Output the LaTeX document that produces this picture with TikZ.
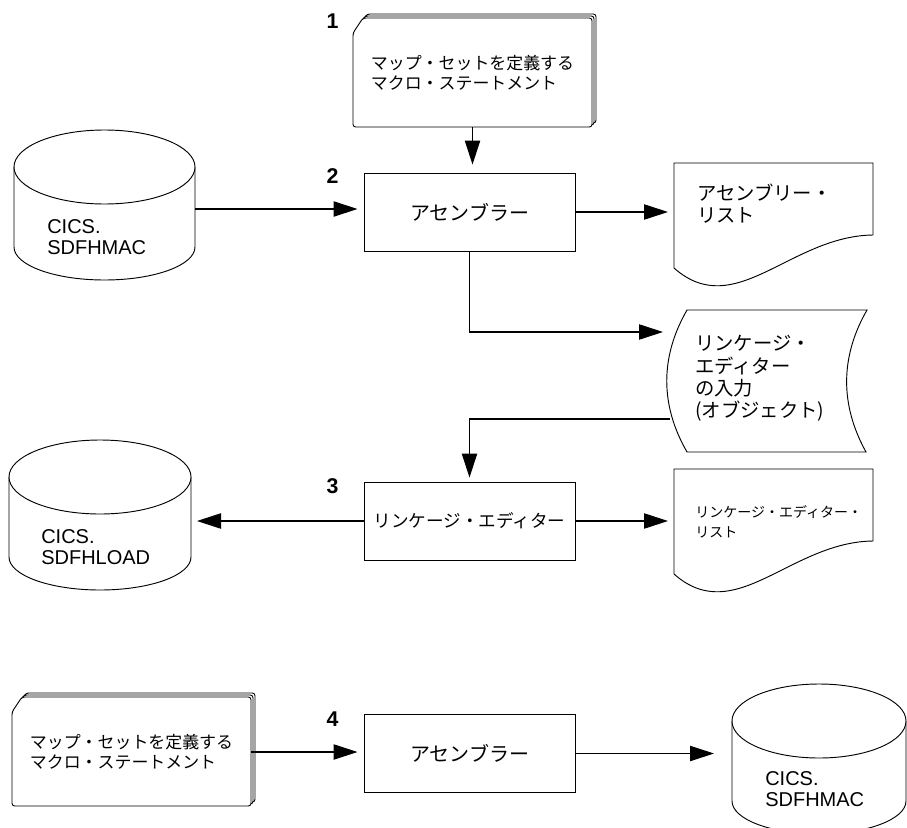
\documentclass[tikz,border=0pt]{standalone}
\usepackage{fontspec}
\setmainfont{Liberation Sans}
\newfontfamily\jp{Noto Sans CJK JP}
\usepackage{tikz}
\usetikzlibrary{arrows.meta, calc}

\begin{document}
\begin{tikzpicture}[x=0.75pt, y=-0.75pt,
  shapeline/.style={draw, line width=0.7pt, fill=white},
  flow/.style={draw, line width=0.8pt, -{Triangle[length=18pt,width=11.5pt]}, shorten >=4.5pt},
  procbox/.style={draw, line width=0.7pt, minimum width=158.25pt, minimum height=58.5pt, inner sep=0pt, font=\jp\fontsize{15}{18}\selectfont},
  cardtext/.style={minimum width=179.25pt, minimum height=81.75pt, inner sep=0pt, align=left, font=\jp\fontsize{12.7}{15}\selectfont},
  doctext/.style={anchor=west, inner sep=0pt, align=left, font=\jp\fontsize{14.5}{16.75}\selectfont},
  drumtext/.style={anchor=west, inner sep=0pt, align=left, font=\fontsize{15}{15.75}\selectfont},
  stepno/.style={font=\bfseries\fontsize{16}{16}\selectfont}]

\useasboundingbox (0,0) rectangle (907,828);

% Card decks (two cards behind the front one)
\foreach \l/\t in {353/18, 12/697}
  \foreach \o in {4,2,0}
    \draw[shapeline, rounded corners=2pt] ({\l+\o},{\t+15-\o}) -- ({\l+10+\o},{\t-\o}) -- ({\l+239+\o},{\t-\o})
      -- ({\l+239+\o},{\t+109-\o}) -- ({\l+\o},{\t+109-\o}) -- cycle;

% Disk data sets
\foreach \cx/\cy/\rx in {104.5/167/90.5, 100/477/91, 819/721/87} {
  \draw[shapeline] ({\cx-\rx},\cy) -- ({\cx-\rx},{\cy+80})
    .. controls ({\cx-\rx},{\cy+98.2}) and ({\cx-0.552*\rx},{\cy+113}) .. (\cx,{\cy+113})
    .. controls ({\cx+0.552*\rx},{\cy+113}) and ({\cx+\rx},{\cy+98.2}) .. ({\cx+\rx},{\cy+80})
    -- ({\cx+\rx},\cy);
  \draw[shapeline] (\cx,\cy) ellipse [x radius=\rx, y radius=37];
}

% Listings
\foreach \t in {163, 469}
  \draw[shapeline] (674,\t) -- (873,\t) -- (873,{\t+72})
    .. controls (790,{\t+73}) and (735,{\t+159}) .. (674,{\t+105}) -- cycle;

% Object deck (tape)
\draw[shapeline] (687,310) -- (867,310) .. controls (840,357) and (840,405) .. (866,452)
  -- (687,452) .. controls (660,405) and (660,357) .. (687,310) -- cycle;

% Step numbers
\node[stepno] (stepA) at (332.5,21) {1};
\node[stepno] (stepB) at (332.5,176) {2};
\node[stepno] (stepC) at (332.5,486) {3};
\node[stepno] (stepD) at (332.5,719) {4};

% Decks
\node[cardtext] (deckA) at (472.5,72.5) {マップ・セットを定義する\\マクロ・ステートメント};
\node[cardtext] (deckB) at (131.5,752) {マップ・セットを定義する\\マクロ・ステートメント};

% Programs
\node[procbox] (asmA) at (469.5,212) {アセンブラー};
\node[procbox, font=\jp\fontsize{13.2}{16}\selectfont] (linkEd) at (469.5,521) {リンケージ・エディター};
\node[procbox] (asmB) at (469.5,753.5) {アセンブラー};

% Data set labels
\node[drumtext] (macLib) at (47,237.5) {CICS.\\SDFHMAC};
\node[drumtext] (loadLib) at (41,547.5) {CICS.\\SDFHLOAD};
\node[drumtext] (macLibB) at (765,789) {CICS.\\SDFHMAC};

% Listing and object labels
\node[doctext] (asmList) at (697,203.5) {アセンブリー・\\リスト};
\node[doctext, font=\jp\fontsize{10.5}{15}\selectfont] (linkList) at (695,522) {リンケージ・エディター・\\リスト};
\node[doctext] (objDeck) at (695,378.5) {リンケージ・\\エディター\\の入力\\(オブジェクト)};

% Ports on the drawn shapes
\coordinate (macPort) at (195,209);
\coordinate (loadPort) at (191,523);
\coordinate (macBPort) at (732,754);
\coordinate (asmListIn) at (674,211);
\coordinate (linkListIn) at (674,521);
\coordinate (objIn) at (669,332);
\coordinate (objOut) at (670,419);

% Flow
\draw[flow, shorten >=6pt] (deckA.south) -- (deckA.south |- asmA.north);
\draw[flow] (macPort) -- (macPort -| asmA.west);
\draw[flow] (asmA.east) -- (asmA.east -| asmListIn);
\draw[flow] (asmA.south) |- (objIn);
\draw[flow, shorten >=3pt] (objOut) -| (linkEd.north);
\draw[flow] (linkEd.west) -- (linkEd.west -| loadPort);
\draw[flow] (linkEd.east) -- (linkEd.east -| linkListIn);
\draw[flow] (deckB.east) -- (deckB.east -| asmB.west);
\draw[flow, shorten >=13.5pt] (asmB.east) -- (asmB.east -| macBPort);

\end{tikzpicture}
\end{document}
